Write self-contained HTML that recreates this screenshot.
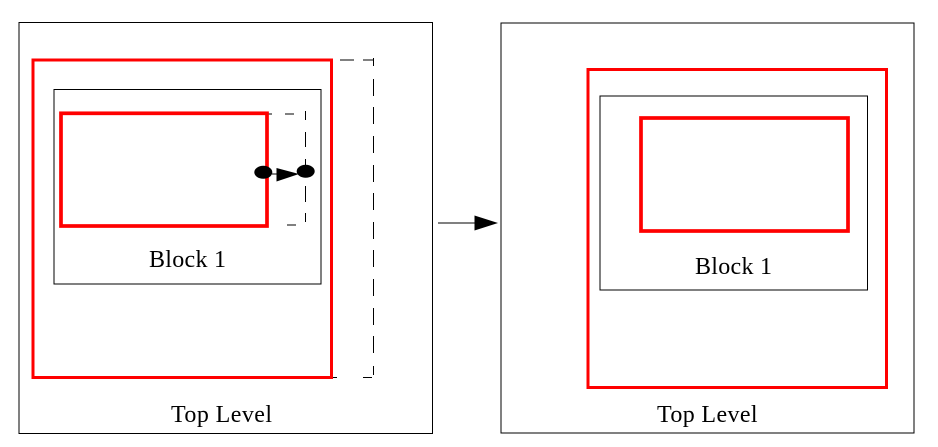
<!DOCTYPE html>
<html>
<head>
<meta charset="utf-8">
<style>
html,body{margin:0;padding:0;background:#fff;width:938px;height:447px;overflow:hidden}
svg{display:block}
text{font-family:"Liberation Serif",serif;font-size:24px;fill:#000}
</style>
</head>
<body>
<svg width="938" height="447" viewBox="0 0 938 447" xmlns="http://www.w3.org/2000/svg">
<rect width="938" height="447" fill="#fff"/>
<g fill="none" stroke="#000" stroke-width="1">
<rect x="19" y="22.5" width="413.5" height="411"/>
<rect x="54" y="89.5" width="267" height="194.5"/>
<rect x="501" y="23" width="413" height="410"/>
<rect x="600" y="96" width="267.5" height="194"/>
</g>
<g fill="none" stroke="#000" stroke-width="1">
<path d="M340 60H354M363 60H373.5"/>
<path d="M373.5 58V66M373.5 79V96M373.5 107V124M373.5 136V153M373.5 165V182M373.5 193V210M373.5 222V239M373.5 250V267M373.5 279V296M373.5 308V325M373.5 336V353M373.5 366V375"/>
<path d="M328 377.5H337M363 377.5H372"/>
<path d="M264 114H272M285 114H294"/>
<path d="M305.5 111V120M305.5 132V147M305.5 159V174M305.5 186V202M305.5 213V222"/>
<path d="M258 225H267M287 225H296"/>
</g>
<g fill="none" stroke="#f00">
<rect x="33" y="60" width="298.5" height="317.5" stroke-width="3"/>
<rect x="61" y="113.3" width="206" height="112.7" stroke-width="3.7"/>
<rect x="588" y="69.5" width="298.5" height="318" stroke-width="3"/>
<rect x="641" y="118" width="207" height="113" stroke-width="3.7"/>
</g>
<ellipse cx="263.3" cy="172.3" rx="9" ry="6.5" fill="#000"/>
<ellipse cx="305.7" cy="171.3" rx="9" ry="6.5" fill="#000"/>
<path d="M272 174H278" stroke="#000" stroke-width="1" fill="none"/>
<polygon points="276.5,168 299,174 276.5,181.5" fill="#000"/>
<path d="M438 223H476" stroke="#000" stroke-width="1" fill="none"/>
<polygon points="474.5,215.5 498,223 474.5,230.5" fill="#000"/>
<text x="149" y="267" textLength="77" lengthAdjust="spacing">Block 1</text>
<text x="171" y="422" textLength="101" lengthAdjust="spacing">Top Level</text>
<text x="695" y="274" textLength="77" lengthAdjust="spacing">Block 1</text>
<text x="657" y="422" textLength="100.5" lengthAdjust="spacing">Top Level</text>
</svg>
</body>
</html>
